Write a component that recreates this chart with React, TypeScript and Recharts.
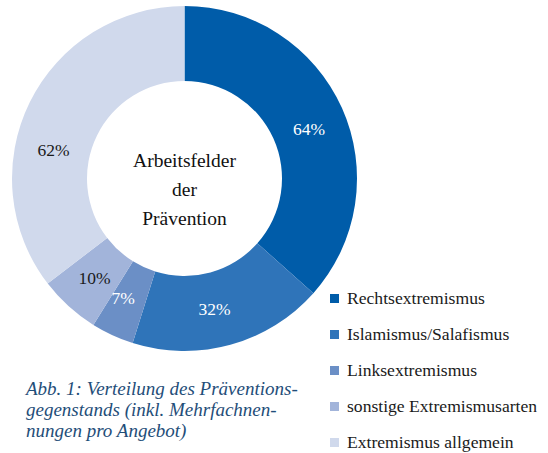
import React from 'react'
import { PieChart, Pie, Cell, Label } from 'recharts'

const categories = ['Rechtsextremismus', 'Islamismus/Salafismus', 'Linksextremismus', 'sonstige Extremismusarten', 'Extremismus allgemein']
const shares = [64, 32, 7, 10, 62]
const colors = ['#005ca9', '#2f74b9', '#6b8fc6', '#a2b4da', '#d0d9ec']
const labelColors = ['#ffffff', '#ffffff', '#ffffff', '#1a1a1a', '#1a1a1a']
const centerLines = ['Arbeitsfelder', 'der', 'Prävention']
const captionLines = ['Abb. 1: Verteilung des Präventions-', 'gegenstands (inkl. Mehrfachnen-', 'nungen pro Angebot)']

const data = categories.map((name, i) => ({ name, value: shares[i] }))

const FONT = '"Liberation Serif", "Times New Roman", serif'
const RAD = Math.PI / 180
const CX = 184.5
const CY = 178.5
// small manual shifts (degrees) the original layout used for some labels
const angleNudge = [-2.5, -2.5, -2.5, 0, 14]

const renderLabel = (props: any) => {
  const { cx, cy, midAngle, innerRadius, outerRadius, index, value } = props
  const angle = midAngle + (angleNudge[index] || 0)
  const r = (innerRadius + outerRadius) / 2 - 1
  const x = cx + r * Math.cos(-angle * RAD)
  const y = cy + r * Math.sin(-angle * RAD)
  return (
    <text x={x} y={y} textAnchor="middle" dominantBaseline="central" fill={labelColors[index]} fontSize={17.5} fontFamily={FONT}>
      {value}%
    </text>
  )
}

const renderCenter = () => {
  const offsets = [-18.5, 10.5, 39.5]
  return (
    <g>
      {centerLines.map((t, i) => (
        <text key={t} x={CX} y={CY + offsets[i]} textAnchor="middle" dominantBaseline="central" fill="#111" fontSize={19.5} fontFamily={FONT}>
          {t}
        </text>
      ))}
    </g>
  )
}

export default function App() {
  return (
    <div style={{ position: 'absolute', left: 0, top: 0, width: 548, height: 453, background: '#fff' }}>
      <PieChart width={548} height={453} margin={{ top: 0, right: 0, bottom: 0, left: 0 }}>
        <Pie
          data={data}
          dataKey="value"
          nameKey="name"
          cx={CX}
          cy={CY}
          innerRadius={97.5}
          outerRadius={172.5}
          startAngle={90}
          endAngle={-270}
          stroke="none"
          label={renderLabel}
          labelLine={false}
          isAnimationActive={false}
        >
          {data.map((d, i) => (
            <Cell key={d.name} fill={colors[i]} />
          ))}
          <Label position="center" content={renderCenter} />
        </Pie>
      </PieChart>
      <div style={{ position: 'absolute', left: 330, top: 280, fontFamily: FONT, fontSize: 17.6, color: '#1a1a1a' }}>
        {categories.map((name, i) => (
          <div key={name} style={{ height: 36, display: 'flex', alignItems: 'center' }}>
            <span style={{ width: 9, height: 9, background: colors[i], display: 'inline-block', marginRight: 8, flexShrink: 0 }} />
            <span style={{ whiteSpace: 'nowrap' }}>{name}</span>
          </div>
        ))}
      </div>
      <div style={{ position: 'absolute', left: 26, top: 378, fontFamily: FONT, fontStyle: 'italic', fontSize: 19, lineHeight: '21px', color: '#1f4e79' }}>
        {captionLines.map((l) => (
          <div key={l} style={{ whiteSpace: 'nowrap' }}>{l}</div>
        ))}
      </div>
    </div>
  )
}
